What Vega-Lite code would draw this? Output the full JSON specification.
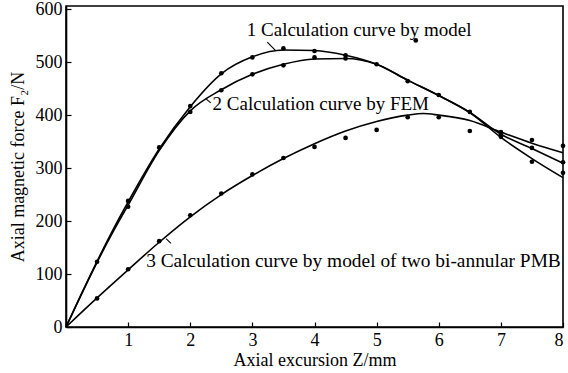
{
  "$schema": "https://vega.github.io/schema/vega-lite/v6.json",
  "width": 497,
  "height": 321,
  "autosize": {"type": "none"},
  "padding": {"left": 66, "top": 6, "right": 5, "bottom": 46},
  "background": "white",
  "config": {
    "view": {"stroke": "black", "strokeWidth": 1.6},
    "font": "Liberation Serif",
    "axis": {
      "grid": false,
      "domainColor": "black",
      "domainWidth": 1.6,
      "tickColor": "black",
      "tickWidth": 1.2,
      "tickSize": -5,
      "labelFont": "Liberation Serif",
      "labelFontSize": 18,
      "labelColor": "black",
      "titleFont": "Liberation Serif",
      "titleFontSize": 18,
      "titleFontWeight": "normal",
      "titleColor": "black"
    }
  },
  "datasets": {
    "curves": [
      {"curve": "1", "z": 0, "f": 0}, {"curve": "1", "z": 0.25, "f": 63}, {"curve": "1", "z": 0.5, "f": 124}, {"curve": "1", "z": 0.75, "f": 182},
      {"curve": "1", "z": 1, "f": 236}, {"curve": "1", "z": 1.5, "f": 336}, {"curve": "1", "z": 2, "f": 416}, {"curve": "1", "z": 2.5, "f": 478},
      {"curve": "1", "z": 3, "f": 510}, {"curve": "1", "z": 3.5, "f": 523}, {"curve": "1", "z": 4, "f": 522}, {"curve": "1", "z": 4.5, "f": 513},
      {"curve": "1", "z": 5, "f": 496}, {"curve": "1", "z": 5.5, "f": 466}, {"curve": "1", "z": 6, "f": 437}, {"curve": "1", "z": 6.5, "f": 405},
      {"curve": "1", "z": 7, "f": 358}, {"curve": "1", "z": 7.5, "f": 318}, {"curve": "1", "z": 8, "f": 282},
      {"curve": "2", "z": 0, "f": 0}, {"curve": "2", "z": 0.25, "f": 62}, {"curve": "2", "z": 0.5, "f": 122}, {"curve": "2", "z": 0.75, "f": 178},
      {"curve": "2", "z": 1, "f": 230}, {"curve": "2", "z": 1.5, "f": 333}, {"curve": "2", "z": 2, "f": 408}, {"curve": "2", "z": 2.5, "f": 448},
      {"curve": "2", "z": 3, "f": 477}, {"curve": "2", "z": 3.5, "f": 496}, {"curve": "2", "z": 4, "f": 506}, {"curve": "2", "z": 4.5, "f": 507},
      {"curve": "2", "z": 5, "f": 496}, {"curve": "2", "z": 5.5, "f": 466}, {"curve": "2", "z": 6, "f": 437}, {"curve": "2", "z": 6.5, "f": 405},
      {"curve": "2", "z": 7, "f": 364}, {"curve": "2", "z": 7.5, "f": 337}, {"curve": "2", "z": 8, "f": 309},
      {"curve": "3", "z": 0, "f": 0}, {"curve": "3", "z": 0.5, "f": 55}, {"curve": "3", "z": 1, "f": 108}, {"curve": "3", "z": 1.5, "f": 160},
      {"curve": "3", "z": 2, "f": 208}, {"curve": "3", "z": 2.5, "f": 250}, {"curve": "3", "z": 3, "f": 286}, {"curve": "3", "z": 3.5, "f": 318},
      {"curve": "3", "z": 4, "f": 346}, {"curve": "3", "z": 4.5, "f": 370}, {"curve": "3", "z": 5, "f": 388}, {"curve": "3", "z": 5.5, "f": 400},
      {"curve": "3", "z": 5.75, "f": 403}, {"curve": "3", "z": 6, "f": 400}, {"curve": "3", "z": 6.5, "f": 390}, {"curve": "3", "z": 7, "f": 368},
      {"curve": "3", "z": 7.5, "f": 347}, {"curve": "3", "z": 8, "f": 329}
    ],
    "points": [
      {"curve": "1", "z": 0.5, "f": 123}, {"curve": "1", "z": 1, "f": 238}, {"curve": "1", "z": 1.5, "f": 339}, {"curve": "1", "z": 2, "f": 417},
      {"curve": "1", "z": 2.5, "f": 479}, {"curve": "1", "z": 3, "f": 509}, {"curve": "1", "z": 3.5, "f": 526}, {"curve": "1", "z": 4, "f": 521},
      {"curve": "1", "z": 4.5, "f": 513}, {"curve": "1", "z": 5, "f": 496}, {"curve": "1", "z": 5.5, "f": 464}, {"curve": "1", "z": 6, "f": 438},
      {"curve": "1", "z": 6.5, "f": 406}, {"curve": "1", "z": 7, "f": 359}, {"curve": "1", "z": 7.5, "f": 312}, {"curve": "1", "z": 8, "f": 291},
      {"curve": "2", "z": 1, "f": 227}, {"curve": "2", "z": 2, "f": 406}, {"curve": "2", "z": 2.5, "f": 447}, {"curve": "2", "z": 3, "f": 477},
      {"curve": "2", "z": 3.5, "f": 494}, {"curve": "2", "z": 4, "f": 509}, {"curve": "2", "z": 4.5, "f": 507}, {"curve": "2", "z": 7, "f": 368},
      {"curve": "2", "z": 7.5, "f": 338}, {"curve": "2", "z": 8, "f": 311},
      {"curve": "3", "z": 0.5, "f": 54}, {"curve": "3", "z": 1, "f": 109}, {"curve": "3", "z": 1.5, "f": 162}, {"curve": "3", "z": 2, "f": 211},
      {"curve": "3", "z": 2.5, "f": 252}, {"curve": "3", "z": 3, "f": 288}, {"curve": "3", "z": 3.5, "f": 319}, {"curve": "3", "z": 4, "f": 340},
      {"curve": "3", "z": 4.5, "f": 357}, {"curve": "3", "z": 5, "f": 372}, {"curve": "3", "z": 5.5, "f": 396}, {"curve": "3", "z": 6, "f": 396},
      {"curve": "3", "z": 6.5, "f": 370}, {"curve": "3", "z": 7, "f": 363}, {"curve": "3", "z": 7.5, "f": 353}, {"curve": "3", "z": 8, "f": 342},
      {"curve": "x", "z": 5.63, "f": 541}
    ],
    "labels": [
      {"label": "1 Calculation curve by model", "z": 2.91, "f": 550, "size": 19},
      {"label": "2 Calculation curve by FEM", "z": 2.36, "f": 409, "size": 19},
      {"label": "3 Calculation curve by model of two bi-annular PMB", "z": 1.29, "f": 113, "size": 19.4}
    ],
    "leaders": [
      {"z": 3.24, "f": 538, "z2": 3.37, "f2": 522},
      {"z": 2.25, "f": 431, "z2": 2.33, "f2": 423},
      {"z": 1.61, "f": 167, "z2": 1.69, "f2": 158}
    ]
  },
  "layer": [
    {
      "data": {"name": "curves"},
      "mark": {"type": "line", "interpolate": "monotone", "color": "black", "strokeWidth": 1.6},
      "encoding": {
        "x": {"field": "z", "type": "quantitative", "scale": {"domain": [0, 8], "nice": false},
              "axis": {"values": [0, 1, 2, 3, 4, 5, 6, 7, 8], "format": "d", "labelExpr": "datum.value == 0 ? '' : datum.label", "labelPadding": 9, "title": "Axial excursion Z/mm", "titlePadding": 2}},
        "y": {"field": "f", "type": "quantitative", "scale": {"domain": [0, 606], "nice": false},
              "axis": {"values": [0, 100, 200, 300, 400, 500, 600], "format": "d", "labelPadding": 9, "title": "Axial magnetic force F₂/N", "titlePadding": 8}},
        "detail": {"field": "curve"}
      }
    },
    {
      "data": {"name": "points"},
      "mark": {"type": "circle", "color": "black", "opacity": 1, "size": 22},
      "encoding": {
        "x": {"field": "z", "type": "quantitative"},
        "y": {"field": "f", "type": "quantitative"}
      }
    },
    {
      "data": {"name": "leaders"},
      "mark": {"type": "rule", "color": "black", "strokeWidth": 1.1},
      "encoding": {
        "x": {"field": "z", "type": "quantitative"},
        "y": {"field": "f", "type": "quantitative"},
        "x2": {"field": "z2"},
        "y2": {"field": "f2"}
      }
    },
    {
      "data": {"name": "labels"},
      "mark": {"type": "text", "align": "left", "baseline": "alphabetic", "font": "Liberation Serif", "color": "black"},
      "encoding": {
        "x": {"field": "z", "type": "quantitative"},
        "y": {"field": "f", "type": "quantitative"},
        "text": {"field": "label"},
        "size": {"field": "size", "type": "quantitative", "scale": null}
      }
    }
  ]
}
